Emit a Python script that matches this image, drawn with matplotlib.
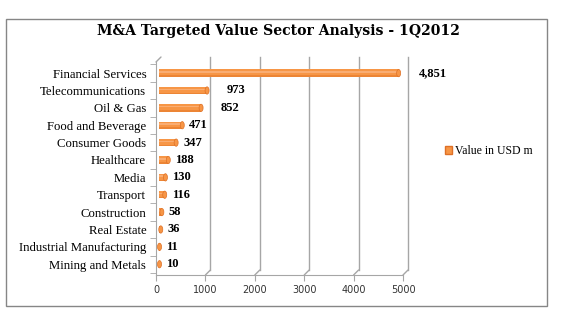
import matplotlib
matplotlib.use("Agg")
import matplotlib.pyplot as plt
from matplotlib.patches import Ellipse, Rectangle, Patch
from matplotlib.transforms import offset_copy

title = "M&A Targeted Value Sector Analysis - 1Q2012"
series_name = "Value in USD m"
sectors = ["Financial Services", "Telecommunications", "Oil & Gas", "Food and Beverage",
           "Consumer Goods", "Healthcare", "Media", "Transport", "Construction",
           "Real Estate", "Industrial Manufacturing", "Mining and Metals"]
values = [4851, 973, 852, 471, 347, 188, 130, 116, 58, 36, 11, 10]
x_ticks = [0, 1000, 2000, 3000, 4000, 5000]

SERIF = "Liberation Serif"
ORANGE = "#F79646"
DARK = "#EC8535"
EDGE = "#DE7026"
LIGHT = "#F9AD73"
GRID = "#A6A6A6"
W, H = 574, 322

fig = plt.figure(figsize=(W / 100, H / 100), dpi=100)

# outer chart frame
fig.patches.append(Rectangle((6 / W, 1 - 306 / H), 541 / W, 287 / H,
                             transform=fig.transFigure, fill=False,
                             edgecolor="#868686", lw=1))
fig.text(278 / W, 1 - 31.5 / H, title, ha="center", va="center",
         fontsize=10.1, fontweight="bold", family="DejaVu Serif")

ax = fig.add_axes([156 / W, 1 - 275 / H, 247 / W, 213 / H])
ax.set_xlim(0, 5000)
ax.set_ylim(11.62, -0.64)
for name, sp in ax.spines.items():
    sp.set_visible(name in ("left", "bottom"))
    sp.set_color(GRID)

# back wall gridlines (3D look)
back = offset_copy(ax.get_xaxis_transform(), fig, x=5, y=5, units="dots")
for t in x_ticks[1:]:
    ax.plot([t, t], [0, 1], transform=back, color=GRID, lw=1, clip_on=False, zorder=0)
    ax.annotate("", xy=(t, 0), xycoords=ax.get_xaxis_transform(),
                xytext=(5, 5), textcoords="offset pixels",
                arrowprops=dict(arrowstyle="-", color=GRID, lw=1, shrinkA=0, shrinkB=0))
ax.annotate("", xy=(0, 1), xycoords="axes fraction", xytext=(5, 5),
            textcoords="offset pixels",
            arrowprops=dict(arrowstyle="-", color=GRID, lw=1, shrinkA=0, shrinkB=0))

# cylinder bars
shift = offset_copy(ax.transData, fig, x=3, y=0, units="dots")
cap_w = 4 / 247 * 5000
bh = 0.42
for i, v in enumerate(values):
    body = ax.barh(i, v, height=bh, color=ORANGE, lw=0, zorder=2)
    low = ax.barh(i + bh * 0.4, v, height=bh * 0.2, color=DARK, lw=0, zorder=3)
    hl = ax.barh(i - bh * 0.16, v, height=bh * 0.2, color=LIGHT, lw=0, zorder=3)
    for p in list(body) + list(low) + list(hl):
        p.set_transform(shift)
    cap = Ellipse((v, i), width=cap_w, height=bh, facecolor=ORANGE,
                  edgecolor=EDGE, lw=0.5, transform=shift, zorder=4)
    ax.add_patch(cap)
    off = 23 if v > 500 else 10
    ax.annotate(f"{v:,}", xy=(v, i), xytext=(off, 0), textcoords="offset pixels",
                ha="left", va="center", fontsize=9, fontweight="bold", family=SERIF)

ax.set_yticks(range(len(sectors)))
ax.set_yticklabels(sectors, family=SERIF, fontsize=9.2)
ax.set_yticks([i + 0.5 for i in range(-1, len(sectors))], minor=True)
ax.tick_params(axis="y", which="major", length=0, pad=7)
ax.tick_params(axis="y", which="minor", length=4, color=GRID)

ax.set_xticks(x_ticks)
ax.set_xticklabels([str(t) for t in x_ticks], family="DejaVu Sans", fontsize=7)
ax.tick_params(axis="x", length=4, color=GRID, pad=3, labelcolor="#333333")

fig.legend(handles=[Patch(facecolor=ORANGE, edgecolor=EDGE)], labels=[series_name],
           loc="center left", bbox_to_anchor=(434 / W, 1 - 151 / H), frameon=False,
           handlelength=0.6, handleheight=0.6, handletextpad=0.3,
           prop={"family": SERIF, "size": 8.5})

fig.savefig("out.png", dpi=100)
